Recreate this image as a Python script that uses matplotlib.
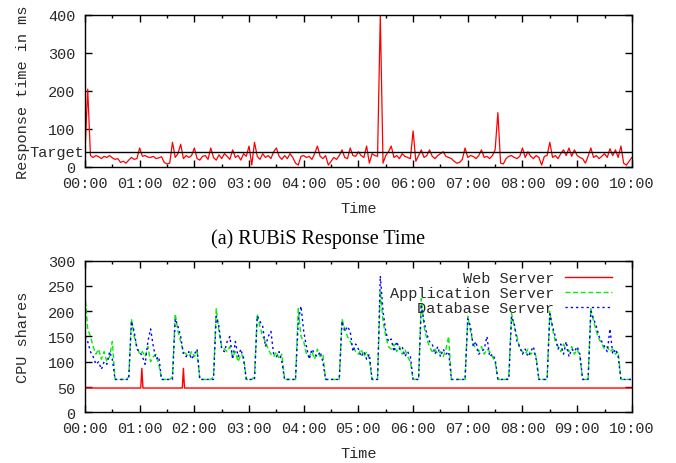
import numpy as np
import matplotlib
matplotlib.use("Agg")
import matplotlib.pyplot as plt
import matplotlib.ticker as mticker

# ── Data (sampled every 3 minutes, 00:00 .. 10:00) ───────────────────────────
SAMPLE_H = 0.05

response_ms = [
    40, 205, 30, 25, 30, 27, 22, 28, 25, 30, 24, 20, 22, 12, 15, 10, 18, 25, 20, 22,
    50, 28, 30, 26, 25, 28, 22, 24, 27, 12, 8, 10, 65, 25, 35, 60, 22, 30, 25, 30,
    50, 22, 18, 28, 30, 20, 50, 25, 18, 32, 22, 35, 28, 20, 45, 25, 30, 18, 35, 28,
    55, 5, 65, 28, 20, 35, 25, 30, 22, 40, 50, 28, 20, 30, 22, 35, 25, 10, 5, 28,
    30, 25, 28, 20, 35, 55, 28, 22, 30, 5, 15, 25, 20, 30, 45, 25, 22, 50, 30, 28,
    40, 30, 25, 55, 10, 35, 30, 28, 400, 10, 30, 40, 55, 25, 30, 22, 35, 28, 25, 22,
    95, 15, 30, 45, 25, 30, 45, 28, 22, 30, 35, 40, 28, 25, 22, 15, 10, 12, 20, 50,
    25, 30, 28, 22, 30, 45, 25, 28, 22, 30, 45, 143, 10, 8, 22, 28, 30, 25, 22, 28,
    50, 25, 40, 28, 22, 30, 25, 5, 28, 30, 65, 25, 30, 22, 35, 45, 30, 50, 28, 45,
    30, 25, 22, 10, 28, 50, 25, 30, 22, 28, 35, 25, 48, 30, 45, 25, 55, 10, 5, 15,
    25,
]
target_ms = 40

app_shares = [
    235, 165, 150, 130, 115, 125, 105, 120, 100, 110, 140, 65, 65, 65, 65, 65, 70, 185, 150, 130,
    115, 120, 110, 130, 100, 110, 115, 95, 65, 65, 65, 65, 70, 195, 160, 140, 120, 115, 110, 120,
    110, 120, 65, 65, 65, 65, 65, 70, 205, 160, 130, 125, 120, 130, 110, 120, 100, 115, 110, 65,
    65, 65, 70, 195, 170, 150, 140, 125, 115, 110, 120, 105, 115, 65, 65, 65, 65, 65, 205, 150,
    140, 115, 110, 120, 105, 125, 110, 115, 65, 65, 65, 65, 65, 65, 185, 165, 150, 140, 130, 120,
    115, 125, 110, 120, 105, 65, 65, 65, 240, 180, 150, 130, 125, 135, 120, 130, 115, 125, 110, 100,
    65, 65, 65, 225, 170, 145, 130, 120, 125, 115, 120, 110, 125, 150, 65, 65, 65, 65, 65, 65,
    190, 160, 135, 125, 120, 130, 115, 125, 120, 110, 100, 65, 65, 65, 65, 70, 195, 170, 150, 125,
    120, 115, 125, 115, 120, 110, 65, 65, 65, 65, 200, 165, 140, 130, 120, 135, 125, 120, 130, 115,
    125, 110, 65, 65, 65, 205, 180, 160, 145, 135, 125, 130, 120, 125, 115, 120, 65, 65, 65, 65,
    65,
]

db_shares = [
    150, 140, 120, 110, 95, 100, 85, 100, 95, 120, 105, 65, 65, 65, 65, 65, 65, 180, 160, 125,
    120, 110, 95, 140, 165, 130, 105, 110, 65, 65, 65, 65, 65, 185, 170, 150, 115, 110, 120, 105,
    115, 125, 65, 65, 65, 65, 65, 65, 190, 170, 125, 120, 140, 150, 105, 140, 110, 125, 105, 65,
    65, 65, 65, 190, 180, 170, 130, 150, 160, 115, 110, 120, 100, 65, 65, 65, 65, 65, 180, 210,
    160, 130, 105, 125, 115, 110, 120, 100, 65, 65, 65, 65, 65, 65, 180, 160, 170, 160, 120, 135,
    125, 110, 120, 105, 115, 65, 65, 65, 270, 200, 160, 140, 145, 120, 140, 125, 130, 110, 120, 110,
    65, 65, 65, 210, 180, 155, 140, 135, 115, 130, 110, 125, 115, 120, 65, 65, 65, 65, 65, 65,
    185, 170, 130, 140, 115, 120, 125, 150, 110, 115, 105, 65, 65, 65, 65, 65, 190, 175, 140, 130,
    115, 125, 110, 120, 130, 105, 65, 65, 65, 65, 195, 170, 150, 125, 135, 115, 140, 110, 125, 120,
    130, 115, 65, 65, 65, 200, 185, 170, 150, 140, 130, 120, 165, 115, 125, 110, 65, 65, 65, 65,
    65,
]

# web server: constant share with two short bumps (vertex list, hours)
web_t = [0.0, 1.02, 1.04, 1.06, 1.78, 1.80, 1.82, 10.0]
web_shares = [48, 48, 87, 48, 48, 87, 48, 48]

hour_ticks = list(range(0, 11))
hour_labels = [f"{h:02d}:00" for h in hour_ticks]
resp_yticks = [0, 100, 200, 300, 400]
cpu_yticks = [0, 50, 100, 150, 200, 250, 300]

# ── Style ─────────────────────────────────────────────────────────────────────
MONO = ["Liberation Mono", "DejaVu Sans Mono"]
FS = 11
TXT = "#2a2a2a"
plt.rcParams.update({
    "font.family": MONO,
    "font.size": FS,
    "axes.linewidth": 1.0,
})


def _style_axes(ax, yticks):
    ax.set_xlim(0, 10)
    ax.set_xticks(hour_ticks)
    ax.set_xticklabels(hour_labels)
    ax.xaxis.set_minor_locator(mticker.MultipleLocator(0.5))
    ax.set_yticks(yticks)
    ax.tick_params(which="both", direction="in", top=True, right=True,
                   colors="black", labelcolor=TXT, labelsize=FS)
    ax.tick_params(which="major", length=5, width=1.0)
    ax.tick_params(which="minor", length=2.5, width=1.0)
    ax.tick_params(axis="x", pad=6.5)
    ax.tick_params(axis="y", pad=7)
    ax.set_xlabel("Time", fontsize=FS, color=TXT)


fig = plt.figure(figsize=(6.76, 4.64), dpi=100)
ax1 = fig.add_axes([0.1257, 0.638, 0.809, 0.3276])
ax2 = fig.add_axes([0.1257, 0.1093, 0.809, 0.3267])

# ── (a) Response time ──
t_resp = np.arange(len(response_ms)) * SAMPLE_H
ax1.plot(t_resp, response_ms, color="#ff0000", lw=0.9)
ax1.axhline(target_ms, color="black", lw=1.0)
ax1.text(-0.002, target_ms, "Target", transform=ax1.get_yaxis_transform(),
         ha="right", va="center", fontsize=FS, color=TXT)
ax1.set_ylim(0, 400)
_style_axes(ax1, resp_yticks)
ax1.set_ylabel("Response time in ms", fontsize=FS, color=TXT)
ax1.yaxis.set_label_coords(-0.100, 0.5)
ax1.xaxis.set_label_coords(0.5, -0.225)

fig.text(0.47, 0.484, "(a) RUBiS Response Time", ha="center", va="center",
         family=["Liberation Serif", "DejaVu Serif"], fontsize=14.5, color="black")

# ── (b) CPU shares ──
t_cpu = np.arange(len(app_shares)) * SAMPLE_H
ax2.plot(web_t, web_shares, color="#ff0000", lw=1.0, label="Web Server")
ax2.plot(t_cpu, app_shares, color="#00ee00", lw=1.0, dashes=(3.5, 2),
         label="Application Server")
ax2.plot(t_cpu, db_shares, color="#0000ff", lw=1.0, dashes=(1.6, 2.2),
         label="Database Server")
ax2.set_ylim(0, 300)
_style_axes(ax2, cpu_yticks)
ax2.set_ylabel("CPU shares", fontsize=FS, color=TXT)
ax2.yaxis.set_label_coords(-0.100, 0.5)
ax2.xaxis.set_label_coords(0.5, -0.22)

leg = ax2.legend(loc="upper right", markerfirst=False, frameon=False,
                 fontsize=FS, handlelength=3.1, handletextpad=0.7,
                 labelspacing=0.05, borderaxespad=0.3,
                 bbox_to_anchor=(0.983, 1.0))
for txt in leg.get_texts():
    txt.set_color(TXT)

fig.savefig("out.png", dpi=100)
